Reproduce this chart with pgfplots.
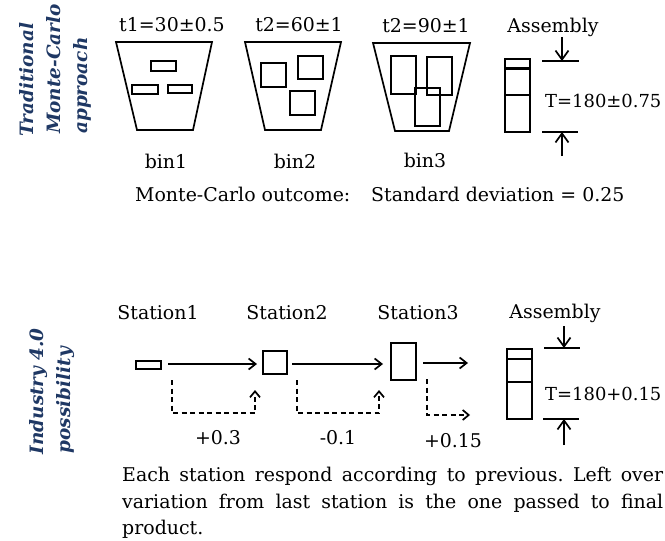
\documentclass[border=0pt]{standalone}
\usepackage{pgfplots}
\pgfplotsset{compat=1.18}
\usepackage{fontspec}
\setmainfont{DejaVu Serif}
\newfontfamily\labfont{DejaVu Serif}
\usetikzlibrary{arrows.meta}
\definecolor{navy}{RGB}{31,56,100}
\newcommand\bt{\fontsize{19}{23}\selectfont}
\newcommand\lb{\labfont\bfseries\itshape\fontsize{18.5}{23}\selectfont\color{navy}}
\frenchspacing
\begin{document}
\begin{tikzpicture}[
  ln/.style={black, line width=1.7bp, line join=miter},
  ar/.style={black, line width=1.7bp, -{Straight Barb[length=7bp,width=11bp,line width=1.7bp]}},
  arb/.style={black, line width=1.7bp, -{Straight Barb[length=9bp,width=13bp,line width=1.7bp]}},
  dar/.style={black, line width=1.7bp, dash pattern=on 5bp off 3.5bp, -{Straight Barb[length=6bp,width=10bp,line width=1.7bp,sep=0pt]}},
  tx/.style={font=\bt, inner sep=0pt},
]
\begin{axis}[
  width=665bp, height=541bp, scale only axis,
  xmin=0, xmax=665, ymin=0, ymax=541, y dir=reverse,
  hide axis, clip=false,
]
\path (axis cs:0,0) rectangle (axis cs:665,541);
% ---------- Traditional: bins ----------
\addplot[ln] coordinates {(116,42) (212,42) (193,130) (137,130)} -- cycle;
\addplot[ln] coordinates {(245,42) (341,42) (321,130) (265,130)} -- cycle;
\addplot[ln] coordinates {(373,43) (470,43) (449,131) (395,131)} -- cycle;
% bin1 parts
\addplot[ln] coordinates {(151,61) (176,61) (176,71) (151,71)} -- cycle;
\addplot[ln] coordinates {(132,85) (158,85) (158,94) (132,94)} -- cycle;
\addplot[ln] coordinates {(168,85) (192,85) (192,93) (168,93)} -- cycle;
% bin2 parts
\addplot[ln] coordinates {(261,63) (286,63) (286,87) (261,87)} -- cycle;
\addplot[ln] coordinates {(298,56) (323,56) (323,79) (298,79)} -- cycle;
\addplot[ln] coordinates {(290,91) (315,91) (315,115) (290,115)} -- cycle;
% bin3 parts
\addplot[ln] coordinates {(391,56) (416,56) (416,94) (391,94)} -- cycle;
\addplot[ln] coordinates {(427,57) (452,57) (452,95) (427,95)} -- cycle;
\addplot[ln] coordinates {(415,88) (440,88) (440,126) (415,126)} -- cycle;
% assembly (top)
\addplot[ln] coordinates {(505,59) (530,59) (530,68) (505,68)} -- cycle;
\addplot[ln] coordinates {(505,69.5) (530,69.5) (530,132) (505,132)} -- cycle;
\addplot[black, line width=2.6bp] coordinates {(505,95) (530,95)};
\addplot[ln] coordinates {(542,61) (579,61)};
\addplot[ln] coordinates {(542,132) (578,132)};
\addplot[arb] coordinates {(562,37) (562,61)};
\addplot[arb] coordinates {(562,156) (562,132)};
% texts (top)
\node[tx, anchor=base] at (axis cs:172,32) {t1=30±0.5};
\node[tx, anchor=base] at (axis cs:299,32) {t2=60±1};
\node[tx, anchor=base] at (axis cs:426,33) {t2=90±1};
\node[tx, anchor=base] at (axis cs:553,33) {Assembly};
\node[tx, anchor=base west, font=\fontsize{18}{22}\selectfont] at (axis cs:545,107) {T=180±0.75};
\node[tx, anchor=base] at (axis cs:166,168) {bin1};
\node[tx, anchor=base] at (axis cs:295,168) {bin2};
\node[tx, anchor=base] at (axis cs:425,167) {bin3};
\node[tx, anchor=base west] at (axis cs:135,201) {Monte-Carlo outcome:\hspace{1.1em}Standard deviation = 0.25};
% side labels
\node[inner sep=0pt, rotate=90, anchor=base west, font=\lb] at (axis cs:33,137) {Traditional};
\node[inner sep=0pt, rotate=90, anchor=base west, font=\lb] at (axis cs:60,134) {Monte-Carlo};
\node[inner sep=0pt, rotate=90, anchor=base west, font=\lb] at (axis cs:87,134) {approach};
\node[inner sep=0pt, rotate=90, anchor=base east, font=\lb] at (axis cs:43,328) {Industry 4.0};
\node[inner sep=0pt, rotate=90, anchor=base east, font=\lb] at (axis cs:70,347) {possibility};
% ---------- Industry 4.0 ----------
\addplot[ln] coordinates {(136,361) (161,361) (161,369) (136,369)} -- cycle;
\addplot[ln] coordinates {(263,351) (287,351) (287,374) (263,374)} -- cycle;
\addplot[ln] coordinates {(391,343) (416,343) (416,380) (391,380)} -- cycle;
\addplot[ar] coordinates {(168,364) (257,364)};
\addplot[ar] coordinates {(292,364) (383,364)};
\addplot[ar] coordinates {(423,363) (468,363)};
\addplot[dar] coordinates {(172,380) (172,413) (255,413) (255,390)};
\addplot[dar] coordinates {(297,380) (297,413) (379,413) (379,390)};
\addplot[dar] coordinates {(427,379) (427,415) (470,415)};
% assembly (bottom)
\addplot[ln] coordinates {(507,349) (532,349) (532,359) (507,359)} -- cycle;
\addplot[ln] coordinates {(507,359) (532,359) (532,419) (507,419)} -- cycle;
\addplot[black, line width=2.2bp] coordinates {(507,382) (532,382)};
\addplot[ln] coordinates {(544,348) (580,348)};
\addplot[ln] coordinates {(543,419) (579,419)};
\addplot[arb] coordinates {(564,326) (564,348)};
\addplot[arb] coordinates {(564,445) (564,419)};
% texts (bottom)
\node[tx, anchor=base] at (axis cs:158,319) {Station1};
\node[tx, anchor=base] at (axis cs:287,319) {Station2};
\node[tx, anchor=base] at (axis cs:418,319) {Station3};
\node[tx, anchor=base] at (axis cs:555,318) {Assembly};
\node[tx, anchor=base west, font=\fontsize{18}{22}\selectfont] at (axis cs:545,400) {T=180+0.15};
\node[tx, anchor=base] at (axis cs:218,444) {+0.3};
\node[tx, anchor=base] at (axis cs:338,444) {-0.1};
\node[tx, anchor=base] at (axis cs:453,447) {+0.15};
\node[tx, anchor=base west] at (axis cs:122,481) {\makebox[541bp][s]{Each station respond according to previous. Left over}};
\node[tx, anchor=base west] at (axis cs:122,508) {\makebox[541bp][s]{variation from last station is the one passed to final}};
\node[tx, anchor=base west] at (axis cs:122,534) {product.};
\end{axis}
\end{tikzpicture}
\end{document}
